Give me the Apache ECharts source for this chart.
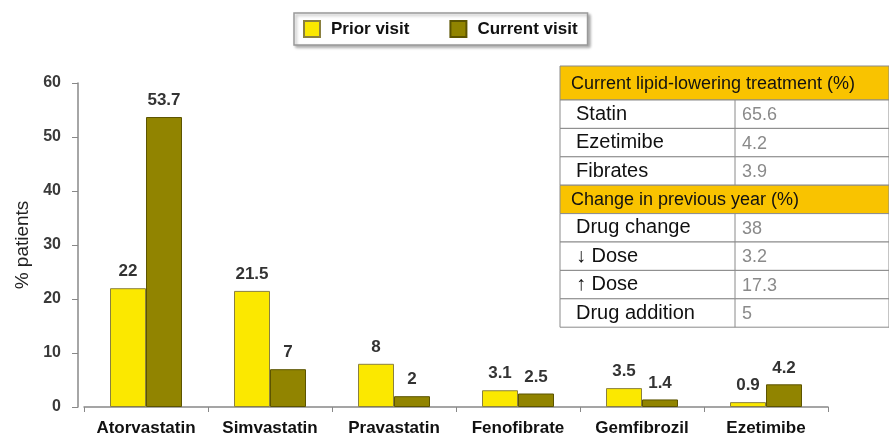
<!DOCTYPE html>
<html>
<head>
<meta charset="utf-8">
<script src="https://cdn.jsdelivr.net/npm/echarts@6/dist/echarts.min.js"></script>
<style>
  html, body { margin: 0; padding: 0; background: #fff; }
  #chart { width: 889px; height: 438px; }
</style>
</head>
<body>
<div id="chart"></div>
<script>
// chart data
const drugs = ['Atorvastatin', 'Simvastatin', 'Pravastatin', 'Fenofibrate', 'Gemfibrozil', 'Ezetimibe'];
const priorVisit = [22, 21.5, 8, 3.1, 3.5, 0.9];
const currentVisit = [53.7, 7, 2, 2.5, 1.4, 4.2];
const yTicks = [0, 10, 20, 30, 40, 50, 60];

// inset table data
const treatmentTitle = 'Current lipid-lowering treatment (%)';
const treatmentLabels = ['Statin', 'Ezetimibe', 'Fibrates'];
const treatmentValues = ['65.6', '4.2', '3.9'];
const changeTitle = 'Change in previous year (%)';
const changeLabels = ['Drug change', '\u2193 Dose', '\u2191 Dose', 'Drug addition'];
const changeValues = ['38', '3.2', '17.3', '5'];

const FONT = '"Liberation Sans", Arial, Helvetica, sans-serif';

// build the table out of graphic elements
function buildTable() {
  const left = 560, top = 66, width = 329, colX = 735;
  const headH = 34, rowH = 28.4;
  const els = [];
  let y = top;
  function header(text, h) {
    els.push({ type: 'rect', shape: { x: left, y: y, width: width, height: h },
      style: { fill: '#F9C300', stroke: '#8a8a8a', lineWidth: 1 } });
    els.push({ type: 'text', style: { text: text, x: left + 11, y: y + h / 2 + 1,
      font: '18px ' + FONT, fill: '#111', verticalAlign: 'middle' } });
    y += h;
  }
  function rows(labels, values) {
    labels.forEach(function (lab, i) {
      els.push({ type: 'rect', shape: { x: left, y: y, width: width, height: rowH },
        style: { fill: '#fff', stroke: '#8a8a8a', lineWidth: 1 } });
      els.push({ type: 'line', shape: { x1: colX, y1: y, x2: colX, y2: y + rowH },
        style: { stroke: '#8a8a8a', lineWidth: 1 } });
      els.push({ type: 'text', style: { text: lab, x: left + 16, y: y + rowH / 2,
        font: '20px ' + FONT, fill: '#111', verticalAlign: 'middle' } });
      els.push({ type: 'text', style: { text: values[i], x: colX + 7, y: y + rowH / 2 + 1,
        font: '18px ' + FONT, fill: '#8a8a8a', verticalAlign: 'middle' } });
      y += rowH;
    });
  }
  header(treatmentTitle, headH);
  rows(treatmentLabels, treatmentValues);
  header(changeTitle, rowH);
  rows(changeLabels, changeValues);
  return els;
}

const chart = echarts.init(document.getElementById('chart'));
chart.setOption({
  animation: false,
  textStyle: { fontFamily: FONT },
  legend: {
    data: ['Prior visit', 'Current visit'],
    icon: 'rect',
    left: 294,
    top: 13,
    padding: [7, 10, 7, 9],
    itemWidth: 16,
    itemHeight: 16,
    itemGap: 40,
    backgroundColor: '#fff',
    borderColor: '#999',
    borderWidth: 1.5,
    shadowBlur: 3,
    shadowColor: 'rgba(0,0,0,0.3)',
    shadowOffsetX: 2,
    shadowOffsetY: 2,
    textStyle: { fontSize: 17, fontWeight: 'bold', color: '#111', padding: [0, 0, 0, 6] }
  },
  grid: { left: 84, right: 61, top: 83, bottom: 31, containLabel: false },
  xAxis: {
    type: 'category',
    data: drugs,
    axisLine: { lineStyle: { color: '#888', width: 1.5 } },
    axisTick: { show: true, interval: 0, length: 5, lineStyle: { color: '#888' } },
    axisLabel: { interval: 0, fontSize: 17, fontWeight: 'bold', color: '#111', margin: 13 }
  },
  yAxis: {
    type: 'value',
    min: yTicks[0],
    max: yTicks[yTicks.length - 1],
    interval: 10,
    offset: 6,
    name: '% patients',
    nameLocation: 'middle',
    nameGap: 46,
    nameTextStyle: { fontSize: 19, color: '#222' },
    axisLine: { show: true, lineStyle: { color: '#888', width: 1.5 } },
    axisTick: { show: true, length: 6, lineStyle: { color: '#888' } },
    axisLabel: { fontSize: 16, fontWeight: 'bold', color: '#3a3a3a', margin: 17 },
    splitLine: { show: false }
  },
  series: [
    {
      name: 'Prior visit',
      type: 'bar',
      data: priorVisit,
      barWidth: 36,
      barGap: '0%',
      itemStyle: { color: '#FBE800', borderColor: '#8a8040', borderWidth: 1 },
      label: { show: true, position: 'top', distance: 8, fontSize: 17, fontWeight: 'bold', color: '#333' }
    },
    {
      name: 'Current visit',
      type: 'bar',
      data: currentVisit,
      barWidth: 36,
      itemStyle: { color: '#918400', borderColor: '#5c5400', borderWidth: 1 },
      label: { show: true, position: 'top', distance: 8, fontSize: 17, fontWeight: 'bold', color: '#333' }
    }
  ],
  graphic: [{ type: 'group', children: buildTable() }]
});
</script>
</body>
</html>
